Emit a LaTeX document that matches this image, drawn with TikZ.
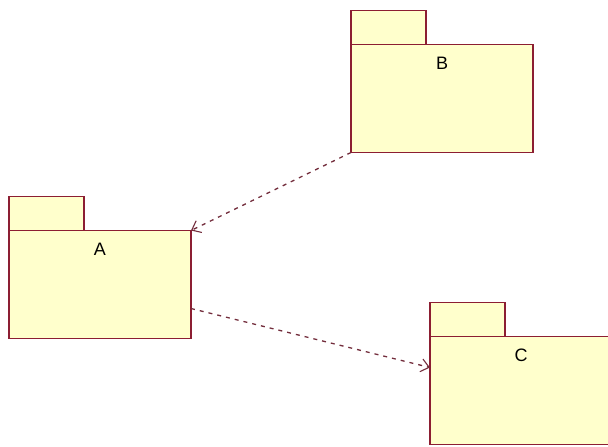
\documentclass[tikz,border=0pt]{standalone}
\usepackage{fontspec}
\setmainfont{Liberation Sans}
\usetikzlibrary{arrows.meta, positioning}
\definecolor{pkgline}{RGB}{140,30,50}
\definecolor{pkgfill}{RGB}{255,255,204}
\definecolor{depline}{RGB}{115,45,60}

\begin{document}
\begin{tikzpicture}[
  x=1pt, y=-1pt,
  package/.style={rectangle, minimum width=182pt, minimum height=108pt,
    inner sep=0pt, outer sep=0pt, draw=pkgline, fill=pkgfill, line width=1.5pt},
  tab/.style={rectangle, minimum width=75pt, minimum height=34pt,
    inner sep=0pt, outer sep=0pt, draw=pkgline, fill=pkgfill, line width=1.5pt},
  pkgname/.style={anchor=center, yshift=-19pt, font=\fontsize{18}{20}\selectfont, inner sep=0pt},
  dep/.style={-{Straight Barb[length=8pt, width=13pt, line width=1.1pt]}, depline,
    line width=1.3pt, dash pattern=on 4pt off 5pt}
]
\clip (0,0) rectangle (608,447);

\node (pkgA) [package, label={[pkgname]north:A}] at (100,284.5) {};
\node (tabA) [tab, above right=0pt and 0pt of pkgA.north west] {};
\node (pkgB) [package, above right=78pt and 160pt of pkgA, label={[pkgname]north:B}] {};
\node (tabB) [tab, above right=0pt and 0pt of pkgB.north west] {};
\node (pkgC) [package, below right=-2pt and 239pt of pkgA, label={[pkgname]north:C}] {};
\node (tabC) [tab, above right=0pt and 0pt of pkgC.north west] {};

\draw [dep] (pkgB.south west) -- (pkgA.north east);
\draw [dep] ([yshift=-24pt]pkgA.east) -- ([yshift=23pt]pkgC.west);

\end{tikzpicture}
\end{document}
